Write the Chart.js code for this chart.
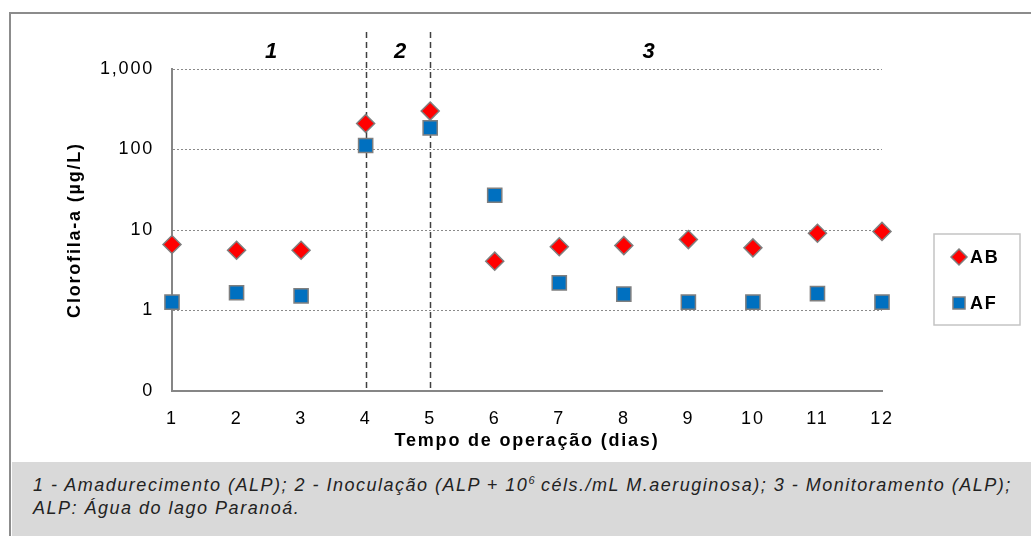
<!DOCTYPE html>
<html>
<head>
<meta charset="utf-8">
<script src="https://cdn.jsdelivr.net/npm/chart.js@4.4.1/dist/chart.umd.min.js"></script>
<style>
  html, body { margin: 0; padding: 0; background: #fff; width: 1031px; height: 536px; overflow: hidden; }
  #frame { position: absolute; left: 9px; top: 12px; width: 1040px; height: 540px;
           border-top: 2px solid #8c8c8c; border-left: 2px solid #8c8c8c; }
  #plot { position: absolute; left: 10px; top: 14px; width: 1021px; height: 448px; }
  #note { position: absolute; left: 12px; top: 462px; width: 1030px; height: 80px; box-sizing: border-box;
          background: #d9d9d9; padding: 12px 0 0 21px; color: #222;
          font-family: "Liberation Sans", Arial, sans-serif; font-style: italic; font-size: 18px;
          letter-spacing: 1.5px; line-height: 23px; white-space: nowrap; }
  #note sup { font-size: 11px; line-height: 0; vertical-align: 7px; letter-spacing: 0; }
</style>
</head>
<body>
<div id="frame"></div>
<div id="plot"><canvas id="chart"></canvas></div>
<div id="note">1 - Amadurecimento (ALP); 2 - Inoculação (ALP + 10<sup>6</sup> céls./mL M.aeruginosa); 3 - Monitoramento (ALP);<br>ALP: Água do lago Paranoá.</div>
<script>
// days of operation
const days = [1, 2, 3, 4, 5, 6, 7, 8, 9, 10, 11, 12];
// chlorophyll-a, ug/L
const abValues = [6.6, 5.6, 5.6, 210, 300, 4.1, 6.2, 6.4, 7.6, 6.0, 9.1, 9.6];
const afValues = [1.27, 1.66, 1.52, 112, 186, 27, 2.2, 1.6, 1.27, 1.27, 1.62, 1.27];

const yTickValues = [0.1, 1, 10, 100, 1000];
const yTickLabels = ['0', '1', '10', '100', '1,000'];

// phases of the experiment
const phaseBounds = [4, 5];
const phaseLabels = ['1', '2', '3'];
const phaseCenters = [2.55, 4.55, 8.4];

const FONT = '"Liberation Sans", Arial, sans-serif';
Chart.defaults.font.family = FONT;
Chart.defaults.color = '#000';

const toPoints = vals => days.map((d, i) => ({ x: d, y: vals[i] }));

// the reference text is drawn rather wide
const spacing = {
  id: 'spacing',
  beforeUpdate(chart) { chart.ctx.letterSpacing = '1.8px'; },
  beforeDraw(chart) { chart.ctx.letterSpacing = '1.8px'; }
};

const phases = {
  id: 'phases',
  beforeDatasetsDraw(chart) {
    const { ctx, chartArea, scales } = chart;
    ctx.save();
    ctx.strokeStyle = '#404040';
    ctx.lineWidth = 1.5;
    ctx.setLineDash([6, 4]);
    phaseBounds.forEach(b => {
      const x = Math.round(scales.x.getPixelForValue(b)) + 0.5;
      ctx.beginPath();
      ctx.moveTo(x, chartArea.top - 37);
      ctx.lineTo(x, chartArea.bottom);
      ctx.stroke();
    });
    ctx.restore();
  },
  afterDraw(chart) {
    const { ctx, chartArea, scales } = chart;
    ctx.save();
    ctx.fillStyle = '#000';
    ctx.font = 'italic bold 22px ' + FONT;
    ctx.textAlign = 'center';
    ctx.textBaseline = 'middle';
    phaseLabels.forEach((t, i) => {
      ctx.fillText(t, scales.x.getPixelForValue(phaseCenters[i]), chartArea.top - 17);
    });
    ctx.restore();
  }
};

const legendBox = {
  id: 'legendBox',
  afterDraw(chart) {
    const ctx = chart.ctx;
    const x0 = 924, y0 = 220, w = 86, h = 91;
    ctx.save();
    ctx.strokeStyle = '#c4c4c4';
    ctx.lineWidth = 1.5;
    ctx.strokeRect(x0, y0, w, h);
    chart.data.datasets.forEach((ds, i) => {
      const cx = x0 + 25, cy = y0 + 23 + i * 46;
      ctx.fillStyle = ds.backgroundColor;
      ctx.strokeStyle = ds.borderColor;
      ctx.lineWidth = ds.borderWidth;
      ctx.beginPath();
      if (ds.pointStyle === 'rectRot') {
        const r = 8;
        ctx.moveTo(cx, cy - r); ctx.lineTo(cx + r, cy); ctx.lineTo(cx, cy + r); ctx.lineTo(cx - r, cy);
        ctx.closePath();
      } else {
        ctx.rect(cx - 6, cy - 6, 12, 12);
      }
      ctx.fill();
      ctx.stroke();
      ctx.fillStyle = '#000';
      ctx.font = 'bold 18px ' + FONT;
      ctx.textAlign = 'left';
      ctx.textBaseline = 'middle';
      ctx.fillText(ds.label, x0 + 36, cy + 1);
    });
    ctx.restore();
  }
};

new Chart(document.getElementById('chart'), {
  type: 'scatter',
  data: {
    datasets: [{
      label: 'AB',
      data: toPoints(abValues),
      pointStyle: 'rectRot',
      pointRadius: 9,
      backgroundColor: '#ff0000',
      borderColor: '#7f7f7f',
      borderWidth: 1.5,
      clip: false
    }, {
      label: 'AF',
      data: toPoints(afValues),
      pointStyle: 'rect',
      pointRadius: 10,
      backgroundColor: '#0070c0',
      borderColor: '#7f7f7f',
      borderWidth: 1.5,
      clip: false
    }]
  },
  options: {
    responsive: true,
    maintainAspectRatio: false,
    animation: false,
    layout: { padding: { top: 55, right: 149, left: 50, bottom: 6 } },
    plugins: { legend: { display: false }, tooltip: { enabled: false } },
    scales: {
      x: {
        type: 'linear',
        min: 1,
        max: 12,
        afterFit: s => { s.height = 65; },
        ticks: { stepSize: 1, font: { size: 18 }, padding: 17, maxRotation: 0 },
        grid: { display: false, drawTicks: false },
        border: { display: true, color: '#868686', width: 2 },
        title: {
          display: true,
          text: 'Tempo de operação (dias)',
          font: { size: 18, weight: 'bold' },
          padding: { top: 0, bottom: 4 }
        }
      },
      y: {
        type: 'logarithmic',
        min: 0.1,
        max: 1000,
        afterFit: s => { s.width = 112; },
        afterBuildTicks: s => { s.ticks = yTickValues.map(v => ({ value: v })); },
        ticks: { font: { size: 18 }, padding: 18, callback: (v, i) => yTickLabels[i] },
        grid: {
          drawTicks: false,
          lineWidth: 1,
          color: c => (c.tick && c.tick.value === 0.1) ? 'rgba(0,0,0,0)' : '#8a8a8a'
        },
        border: { display: true, color: '#868686', width: 2, dash: [2, 2] },
        title: {
          display: true,
          text: 'Clorofila-a (µg/L)',
          font: { size: 18, weight: 'bold' }
        }
      }
    }
  },
  plugins: [spacing, phases, legendBox]
});
</script>
</body>
</html>
